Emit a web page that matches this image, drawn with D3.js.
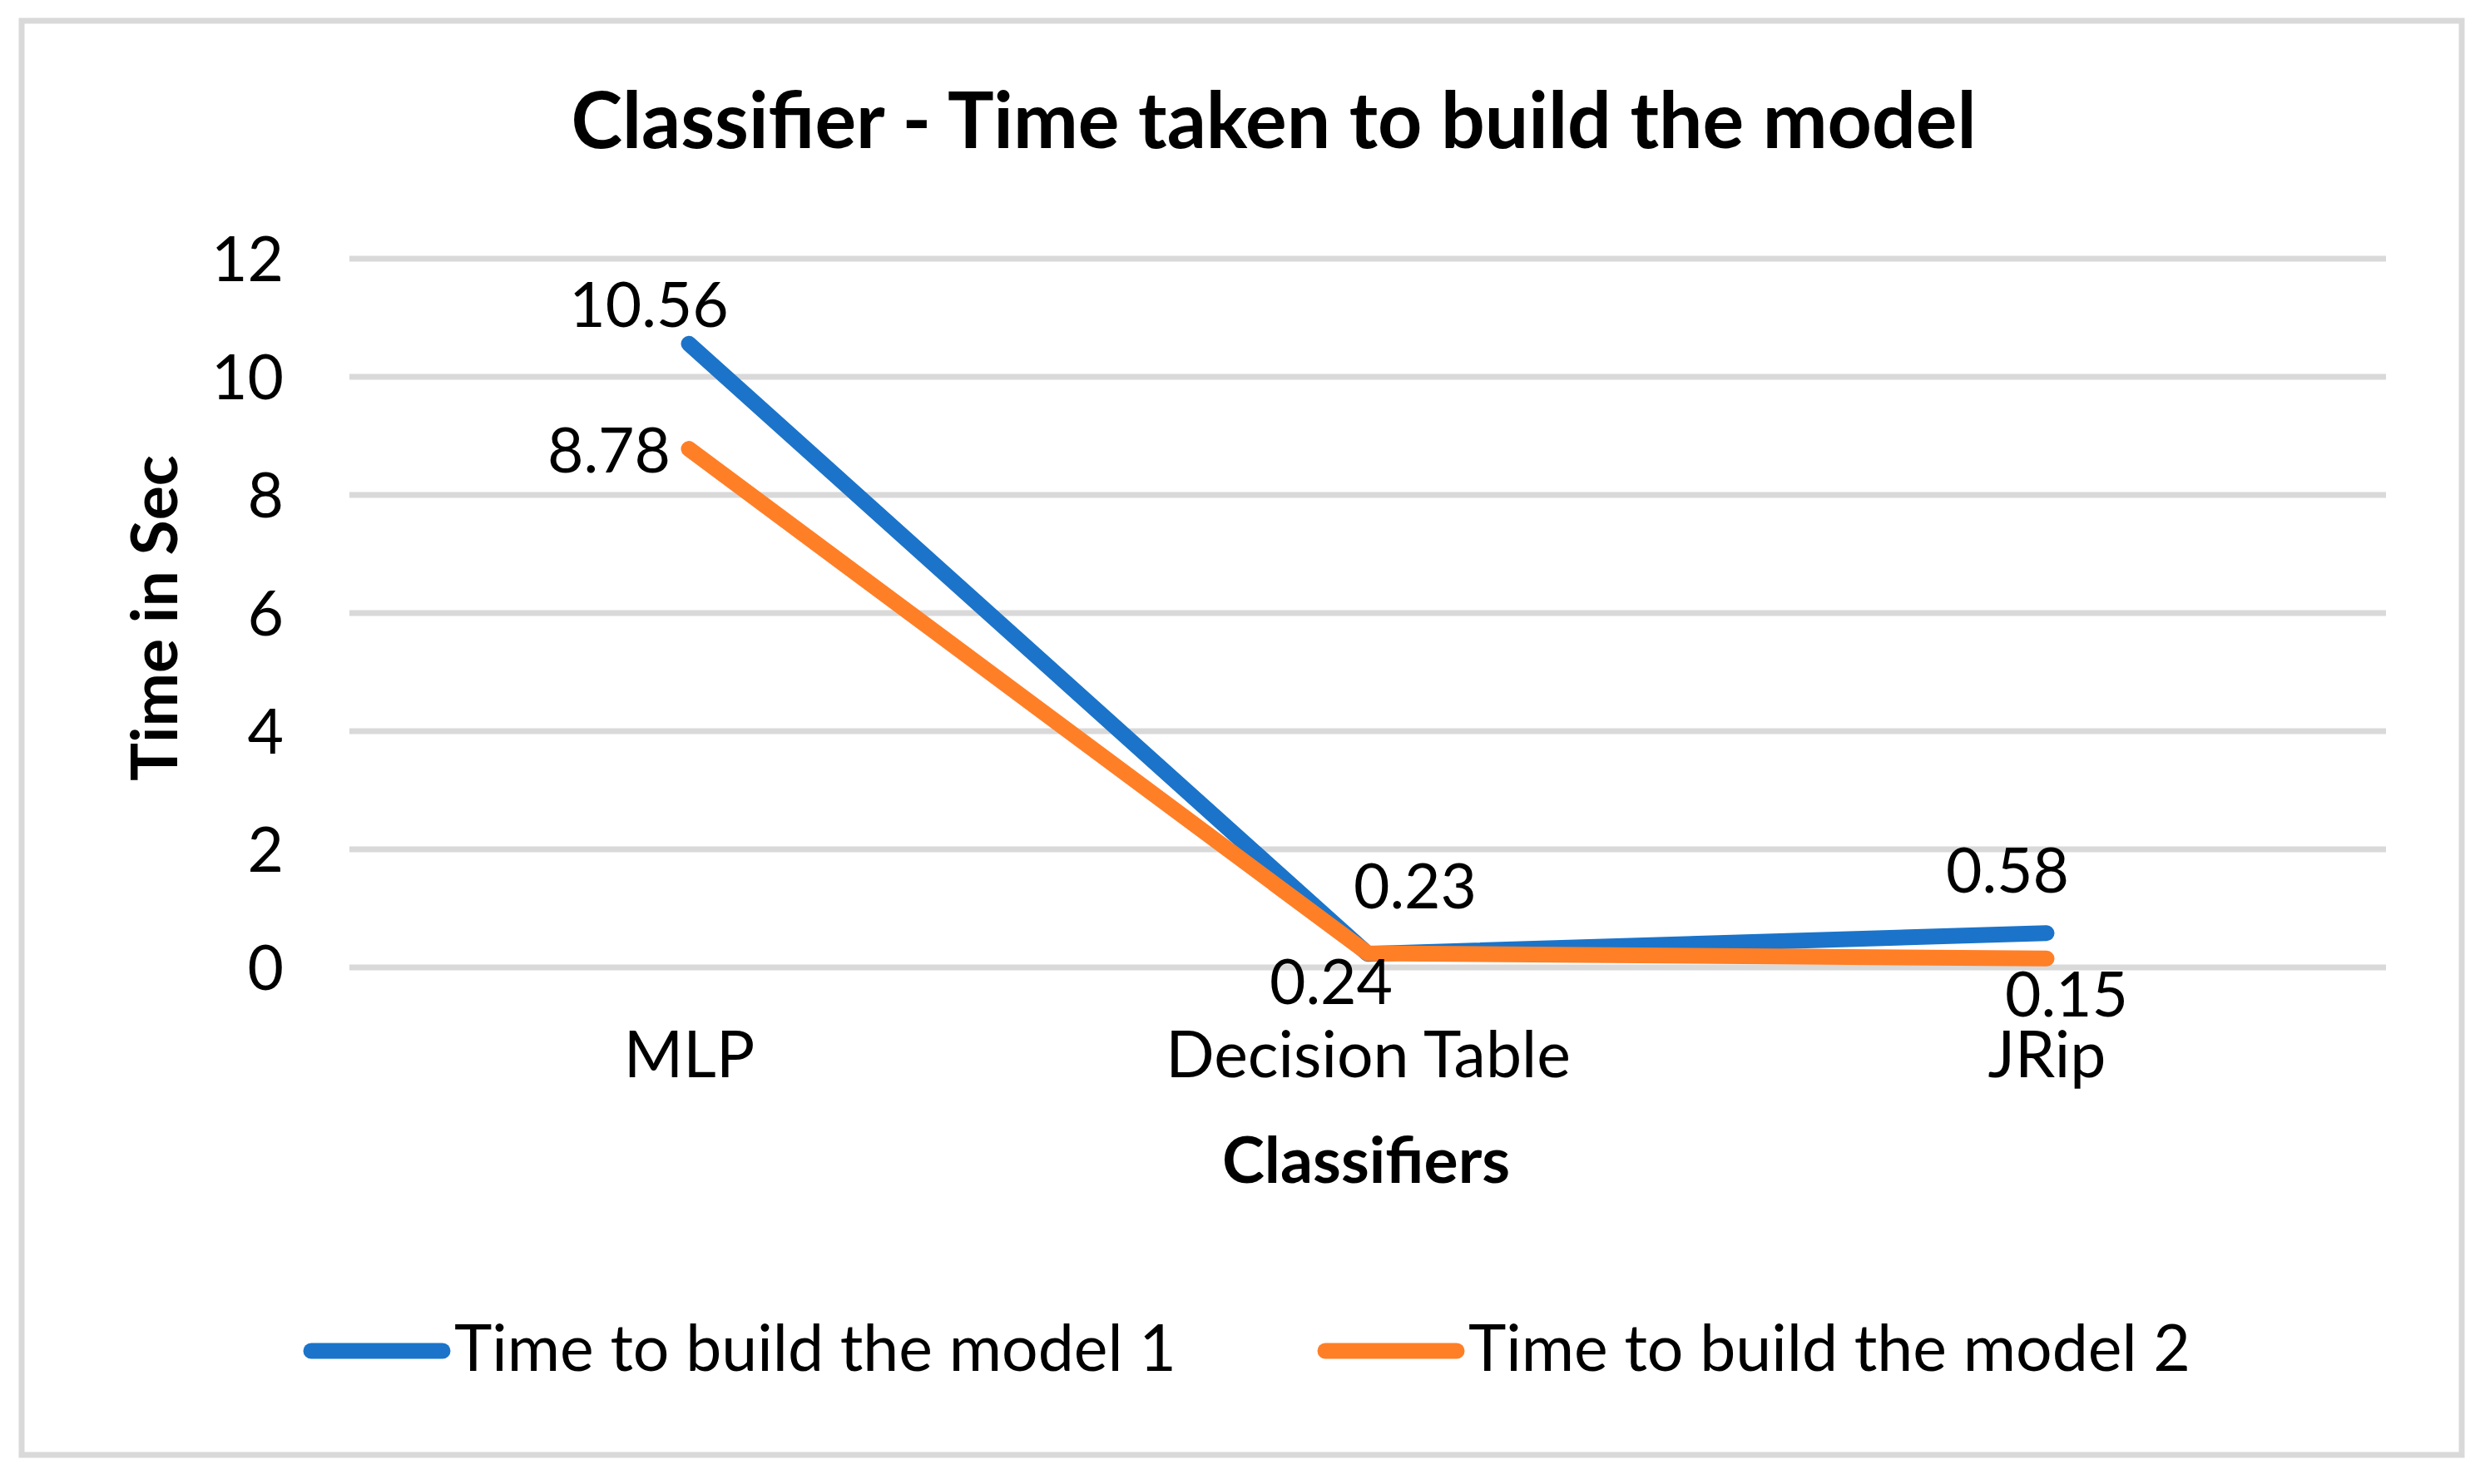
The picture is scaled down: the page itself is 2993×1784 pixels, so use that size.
<!DOCTYPE html>
<html>
<head>
<meta charset="utf-8">
<script src="https://cdn.jsdelivr.net/npm/d3@7"></script>
<style>
  body { margin: 0; background: #fff; }
  text { font-family: Lato, "Open Sans", sans-serif; fill: #000; }
</style>
</head>
<body>
<svg id="chart"></svg>
<script>
// values
const categories = ["MLP", "Decision Table", "JRip"];
const model1 = [10.56, 0.23, 0.58];
const model2 = [8.78, 0.24, 0.15];
const seriesNames = ["Time to build the model 1", "Time to build the model 2"];
const yTicks = [0, 2, 4, 6, 8, 10, 12];

const width = 2993, height = 1784;
const colors = ["#1b74c9", "#ff7f27"];

// label placement relative to each point (Excel labels were nudged around)
const labelOffsets = [
  [[-48, -20], [57, -55], [-47, -49]],
  [[-96, 28], [-44, 61], [24, 70]]
];

const svg = d3.select("#chart")
    .attr("width", width)
    .attr("height", height);

svg.append("rect")
    .attr("x", 26).attr("y", 25)
    .attr("width", 2933).attr("height", 1724)
    .attr("fill", "#fff")
    .attr("stroke", "#d9d9d9")
    .attr("stroke-width", 7);

const x = d3.scalePoint()
    .domain(categories)
    .range([420, 2868])
    .padding(0.5);

const y = d3.scaleLinear()
    .domain([0, 12])
    .range([1163, 311]);

// gridlines
svg.append("g")
  .selectAll("line")
  .data(yTicks)
  .join("line")
    .attr("x1", 420).attr("x2", 2868)
    .attr("y1", d => y(d)).attr("y2", d => y(d))
    .attr("stroke", "#d9d9d9")
    .attr("stroke-width", 7);

// y axis labels
const yAxis = svg.append("g")
    .attr("transform", "translate(420,0)")
    .call(d3.axisLeft(y).tickValues(yTicks).tickSize(0).tickPadding(79));
yAxis.select(".domain").remove();
yAxis.selectAll("text")
    .attr("font-family", null)
    .style("font-size", "75px")
    .attr("dy", "0.35em");

// x axis labels
const xAxis = svg.append("g")
    .attr("transform", "translate(0,1163)")
    .call(d3.axisBottom(x).tickSize(0).tickPadding(0));
xAxis.select(".domain").remove();
xAxis.selectAll("text")
    .attr("font-family", null)
    .style("font-size", "77px")
    .attr("y", 132)
    .attr("dy", 0);

// lines
const series = [model1, model2];
const line = d3.line()
    .x((d, i) => x(categories[i]))
    .y(d => y(d));

svg.append("g")
  .selectAll("path")
  .data(series)
  .join("path")
    .attr("d", d => line(d))
    .attr("fill", "none")
    .attr("stroke", (d, i) => colors[i])
    .attr("stroke-width", 19)
    .attr("stroke-linecap", "round")
    .attr("stroke-linejoin", "round");

// data labels
series.forEach((vals, s) => {
  svg.append("g")
    .selectAll("text")
    .data(vals)
    .join("text")
      .attr("x", (d, i) => x(categories[i]) + labelOffsets[s][i][0])
      .attr("y", (d, i) => y(d) + labelOffsets[s][i][1])
      .attr("text-anchor", "middle")
      .style("font-size", "75px")
      .text(d => d.toFixed(2));
});

// titles
svg.append("text")
    .attr("x", 1531).attr("y", 178)
    .attr("text-anchor", "middle")
    .style("font-size", "93px")
    .style("font-weight", 700)
    .text("Classifier - Time taken to build the model");

svg.append("text")
    .attr("x", 1642).attr("y", 1422)
    .attr("text-anchor", "middle")
    .style("font-size", "77px")
    .style("font-weight", 700)
    .text("Classifiers");

svg.append("text")
    .attr("transform", "translate(213,743) rotate(-90)")
    .attr("text-anchor", "middle")
    .style("font-size", "77px")
    .style("font-weight", 700)
    .text("Time in Sec");

// legend
const legendX = [374, 1593];
const legend = svg.append("g")
  .selectAll("g")
  .data(seriesNames)
  .join("g")
    .attr("transform", (d, i) => `translate(${legendX[i]},1624)`);

legend.append("line")
    .attr("x1", 0).attr("x2", 158)
    .attr("stroke", (d, i) => colors[i])
    .attr("stroke-width", 19)
    .attr("stroke-linecap", "round");

legend.append("text")
    .attr("x", 172)
    .attr("y", 24)
    .style("font-size", "77px")
    .text(d => d);
</script>
</body>
</html>
